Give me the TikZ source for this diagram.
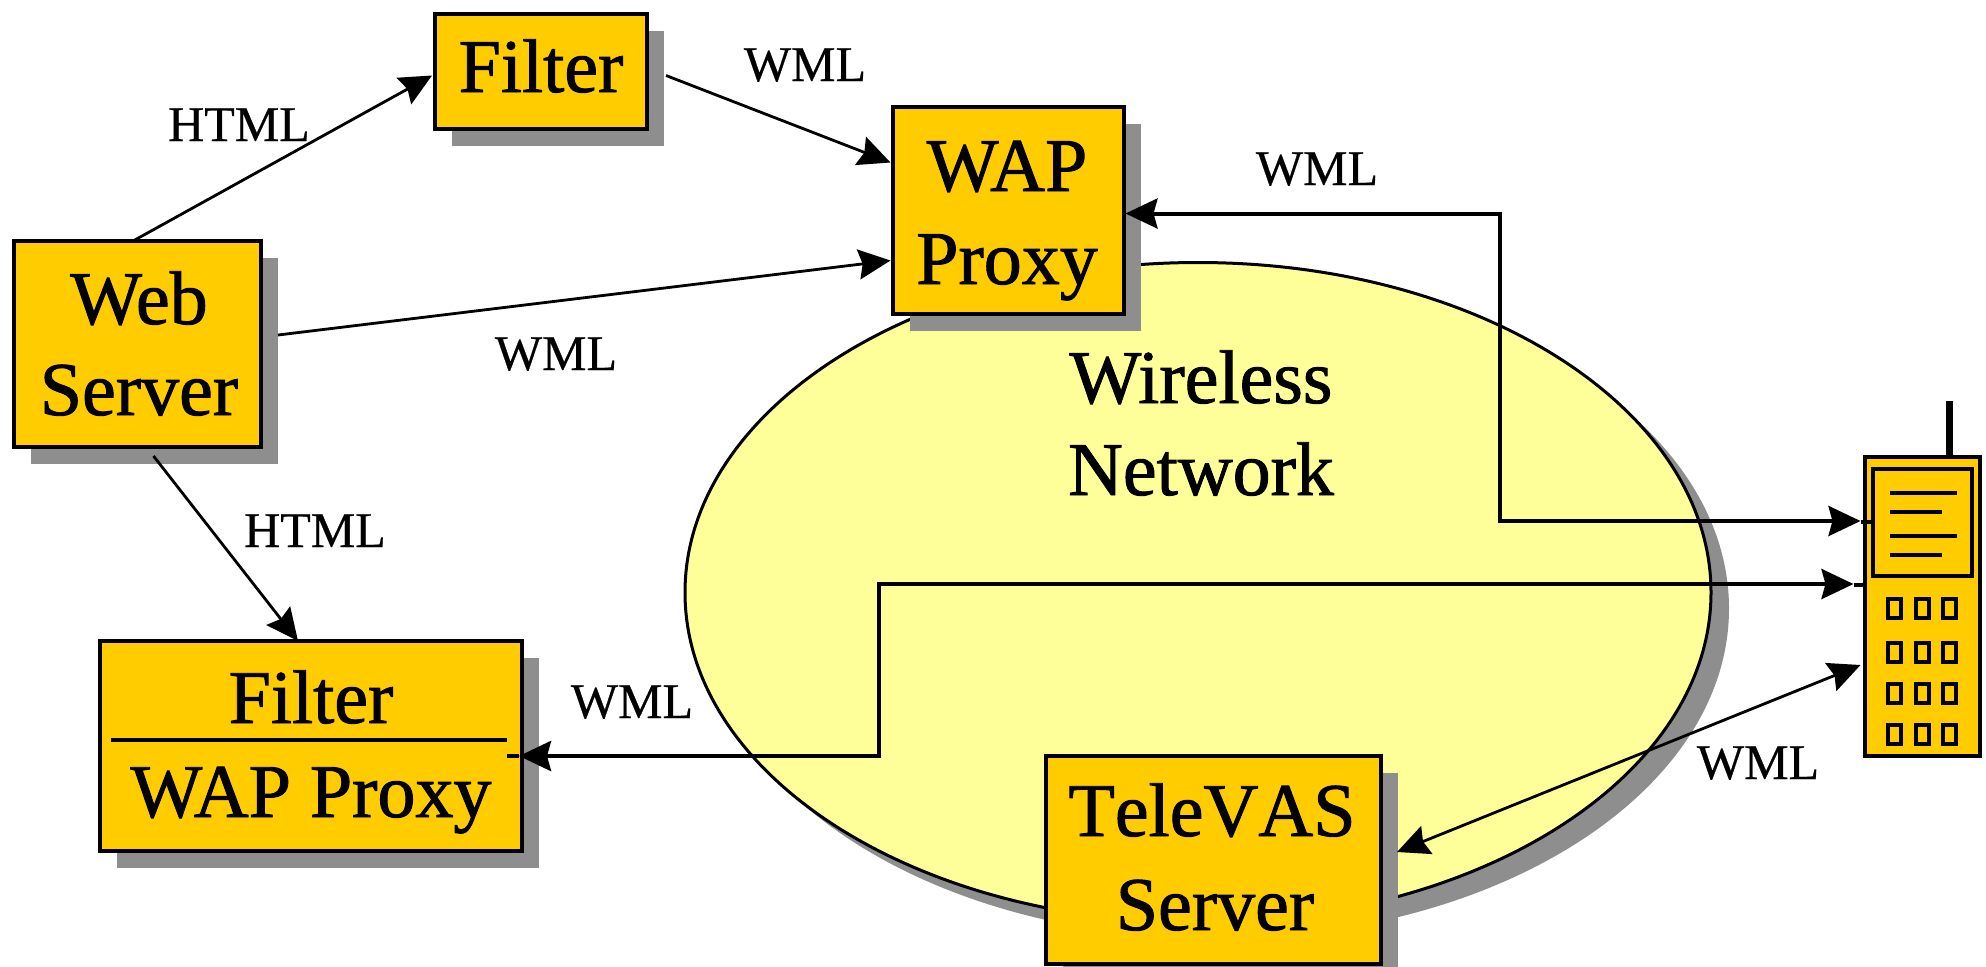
\documentclass[tikz,border=0pt]{standalone}
\usepackage{fontspec}
\setmainfont{Liberation Serif}
\newfontfamily\bigserif[FakeBold=1.2]{Liberation Serif}
\newfontfamily\bigserifnk[FakeBold=1.2,Kerning=Off]{Liberation Serif}
\newfontfamily\smallserif[FakeBold=0.5]{Liberation Serif}
\usetikzlibrary{arrows.meta,shapes.geometric,shadows}
\definecolor{boxyellow}{HTML}{FFCC00}
\definecolor{netyellow}{HTML}{FFFF99}
\definecolor{shadowgray}{HTML}{8E8E8E}
\tikzset{
  box/.style={draw=black,fill=boxyellow,line width=2pt,outer sep=0pt,inner sep=0pt,
    drop shadow={shadow xshift=8.5pt,shadow yshift=-8.5pt,fill=shadowgray,opacity=1}},
  phonepart/.style={draw=black,fill=boxyellow,line width=2pt,outer sep=0pt,inner sep=0pt},
  keypad/.style={draw=black,fill=boxyellow,line width=2pt,outer sep=0pt,inner sep=0pt,minimum width=6.5pt,minimum height=9.5pt},
  bigtext/.style={anchor=base,inner sep=0pt,font=\bigserif\fontsize{38}{38}\selectfont},
  smalltext/.style={anchor=base,inner sep=0pt,font=\smallserif\fontsize{25}{25}\selectfont},
  thinline/.style={line width=1.4pt,black},
  thickline/.style={line width=2pt,black},
  head/.tip={Stealth[length=16pt,width=15pt,inset=2pt]},
}
\begin{document}
\begin{tikzpicture}[x=0.5pt,y=-0.5pt]
\useasboundingbox (0,0) rectangle (1986,966);
% network
\node[ellipse,draw=black,fill=netyellow,line width=1.5pt,inner sep=0pt,outer sep=0pt,
  minimum width=513pt,minimum height=330pt,
  drop shadow={shadow xshift=9pt,shadow yshift=-8pt,fill=shadowgray,opacity=1}] (net) at (1198,592.5) {};
\node[bigtext] (wireless) at (1201,403) {Wireless};
\node[bigtext] (network) at (1201,495) {Network};
% boxes
\node[box,minimum width=106pt,minimum height=57.5pt] (filter) at (541,71.5) {};
\node[bigtext] (filtertext) at (541,92) {Filter};
\node[box,minimum width=115.5pt,minimum height=103.5pt] (wap) at (1008,210.5) {};
\node[bigtext] (waptext) at (1007,191) {WAP};
\node[bigtext] (proxytext) at (1007,284) {Proxy};
\node[box,minimum width=123.5pt,minimum height=103pt] (web) at (137.5,344) {};
\node[bigtext] (webtext) at (139,324) {Web};
\node[bigtext] (servertext) at (139,415) {Server};
\node[box,minimum width=211pt,minimum height=105pt] (filterwap) at (311,746) {};
\node[bigtext] (filtertwo) at (311,723) {Filter};
\node[bigtext] (wapproxy) at (311,817) {WAP Proxy};
\draw[line width=2pt] ([xshift=5.5pt,yshift=3pt]filterwap.west) -- ([xshift=-7.5pt,yshift=3pt]filterwap.east);
\node[box,minimum width=167.5pt,minimum height=104pt] (televas) at (1213.5,860) {};
\node[bigtext,font=\bigserifnk\fontsize{38}{38}\selectfont] (televastext) at (1212,836) {TeleVAS};
\node[bigtext] (tvserver) at (1215,930) {Server};
% phone
\node[phonepart,minimum width=57.5pt,minimum height=149.5pt] (phone) at (1922,606) {};
\coordinate (antenna) at (1949,401);
\draw[line width=3.5pt] ([xshift=13.5pt]phone.north) -- (antenna);
\node[phonepart,minimum width=49.5pt,minimum height=53.5pt] (screen) at (1922,522) {};
\foreach \yy/\xe [count=\i] in {493/1957,512/1942,536/1957,555/1942}{
  \coordinate (ls\i) at (1890,\yy);
  \coordinate (le\i) at (\xe,\yy);
  \draw[line width=2pt] (ls\i) -- (le\i);
}
\foreach \yy [count=\r] in {608.5,652,693,734.5}{
  \foreach \xx [count=\c] in {1894,1922,1949.5}{
    \node[keypad] (key\r\c) at (\xx,\yy) {};
  }
}
% connectors
\draw[thinline,-{head}] ([xshift=-2.25pt]web.north) -- ([xshift=-1.5pt,yshift=-2pt]filter.west);
\draw[thinline,-{head}] ([xshift=9.5pt,yshift=-2pt]filter.east) -- ([xshift=-1pt,yshift=24pt]wap.west);
\draw[thinline,-{head}] ([xshift=8.5pt,yshift=4.5pt]web.east) -- ([xshift=-1pt,yshift=-25pt]wap.west);
\draw[thinline,-{head}] ([xshift=8pt,yshift=-4.5pt]web.south) -- ([xshift=-6.5pt]filterwap.north);
\coordinate (benda) at (1500,521);
\draw[thickline,{head}-{head}] ([xshift=1pt,yshift=-1.5pt]wap.east) -| (benda) -- ([xshift=-6pt,yshift=0.5pt]screen.west);
\draw[thickline] ([xshift=-6pt]screen.west) -- (screen.west);
\coordinate (bendb) at (879,584);
\draw[thickline,{head}-{head}] ([xshift=-1.5pt,yshift=-5pt]filterwap.east) -| (bendb) -- ([xshift=-5.5pt,yshift=11pt]phone.west);
\draw[thickline] ([xshift=-1.5pt,yshift=-5pt]filterwap.east) -- ([xshift=-7.5pt,yshift=-5pt]filterwap.east);
\draw[thickline] ([xshift=-5.5pt,yshift=10.5pt]phone.west) -- ([yshift=10.5pt]phone.west);
\draw[thinline,{head}-{head}] ([xshift=8pt,yshift=4pt]televas.east) -- ([xshift=-2pt,yshift=-29.5pt]phone.west);
% labels
\node[smalltext] (l1) at (239,141) {HTML};
\node[smalltext] (l2) at (805,81) {WML};
\node[smalltext] (l3) at (1317,185) {WML};
\node[smalltext] (l4) at (556,370) {WML};
\node[smalltext] (l5) at (315,547) {HTML};
\node[smalltext] (l6) at (632,718) {WML};
\node[smalltext] (l7) at (1758,779) {WML};
\end{tikzpicture}
\end{document}
